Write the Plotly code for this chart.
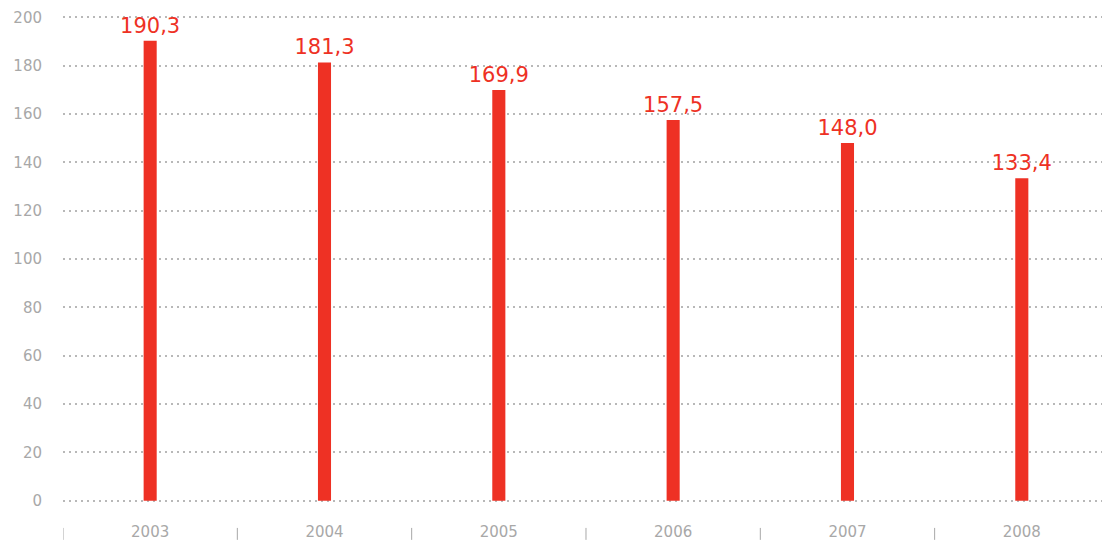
import plotly.graph_objects as go

# Annual values
years = ["2003", "2004", "2005", "2006", "2007", "2008"]
values = [190.3, 181.3, 169.9, 157.5, 148.0, 133.4]
labels = ["190,3", "181,3", "169,9", "157,5", "148,0", "133,4"]
y_ticks = [0, 20, 40, 60, 80, 100, 120, 140, 160, 180, 200]

RED = "#ee3124"
GREY = "#a8a8a8"
FONT = "DejaVu Sans"

fig = go.Figure(
    go.Bar(
        x=list(range(len(years))),
        y=values,
        text=labels,
        textposition="outside",
        constraintext="none",
        cliponaxis=False,
        textfont=dict(color=RED, size=21, family=FONT),
        marker=dict(color=RED, line=dict(width=0)),
        width=0.075,
    )
)

# small separators between categories below the axis
for i in range(len(years)):
    fig.add_shape(
        type="line", xref="x", yref="paper",
        x0=i - 0.5, x1=i - 0.5, y0=-0.04, y1=-0.064,
        line=dict(color=GREY, width=1),
    )

fig.update_layout(
    width=1102, height=540,
    margin=dict(l=63, r=0, t=10, b=32),
    plot_bgcolor="white", paper_bgcolor="white",
    showlegend=False,
    font=dict(family=FONT, color=GREY, size=15),
    xaxis=dict(
        tickvals=list(range(len(years))), ticktext=years,
        range=[-0.5, 5.46], showgrid=False, zeroline=False, showline=False,
        ticks="", ticklabelstandoff=13, automargin=False,
        tickfont=dict(size=15, color=GREY, family=FONT),
    ),
    yaxis=dict(
        range=[-3, 203], tickvals=y_ticks,
        showgrid=True, gridcolor="#b8b8b8", griddash="2px,4px", gridwidth=2,
        zeroline=False, showline=False, ticks="", ticklabelstandoff=20,
        automargin=False,
        tickfont=dict(size=15, color=GREY, family=FONT),
    ),
)

fig.write_html("out.html")
